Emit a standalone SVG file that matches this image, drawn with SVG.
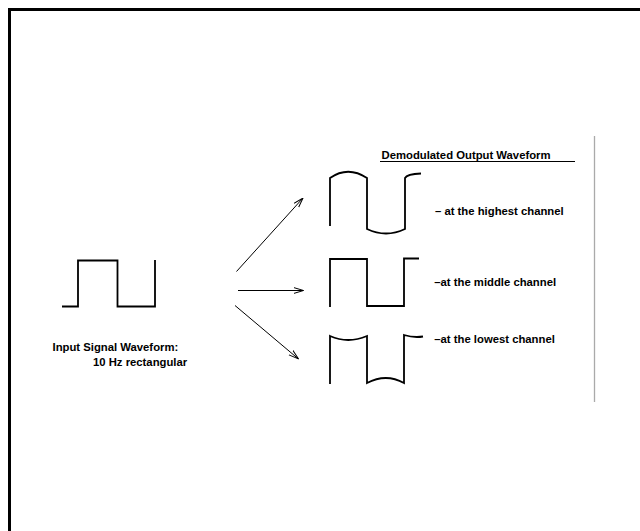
<svg xmlns="http://www.w3.org/2000/svg" width="640" height="531" viewBox="0 0 640 531">
<defs>
<style>
.wave{fill:none;stroke:#000;stroke-width:1.8;stroke-linejoin:miter}
.arrow{fill:none;stroke:#000;stroke-width:1}
.t{font-family:"Liberation Sans",Arial,sans-serif;font-size:11.3px;font-weight:bold;fill:#000}
</style>
<marker id="ah" viewBox="0 0 10 8" refX="10" refY="4" markerWidth="10" markerHeight="8" markerUnits="userSpaceOnUse" orient="auto">
<path d="M0,1 L10,4 L0,7" fill="none" stroke="#000" stroke-width="1"/>
</marker>
</defs>
<rect width="640" height="531" fill="#fff"/>
<rect x="9.5" y="9.5" width="700" height="600" fill="none" stroke="#000" stroke-width="3"/>
<line x1="594.5" y1="136" x2="594.5" y2="402" stroke="#aaa" stroke-width="1.3"/>
<g id="input">
<path class="wave" d="M62,306.5 L78,306.5 L78,260.5 L117.5,260.5 L117.5,306.5 L155,306.5 L155,260"/>
<text class="t" x="52.5" y="350.5">Input Signal Waveform:</text>
<text class="t" x="93" y="365.5">10 Hz rectangular</text>
</g>
<g id="title">
<text class="t" x="381.5" y="158.5">Demodulated Output Waveform</text>
<line x1="380" y1="161.5" x2="575" y2="161.5" stroke="#000" stroke-width="1"/>
</g>
<g id="highest">
<path class="wave" d="M330,226 L330,178 Q348,165.5 367,178 L367,229 Q386,238 405,229 L405,178 Q407,174 421,173.5"/>
<text class="t" x="435" y="215">– at the highest channel</text>
</g>
<g id="middle">
<path class="wave" d="M330,307 L330,259 L367,259 L367,306 L404,306 L404,258.5 L419,258.5"/>
<text class="t" x="434.3" y="286">–at the middle channel</text>
</g>
<g id="lowest">
<path class="wave" d="M330,384 L330,336 Q348,344 367,336 L367,383 Q386,373 404,383 L404,335 Q414,338 423,336.5"/>
<text class="t" x="434.3" y="343">–at the lowest channel</text>
</g>
<g id="connectors">
<line class="arrow" x1="236.5" y1="271.5" x2="303" y2="198" marker-end="url(#ah)"/>
<line class="arrow" x1="238" y1="290.5" x2="303.5" y2="290.5" marker-end="url(#ah)"/>
<line class="arrow" x1="235" y1="305.5" x2="298.5" y2="359" marker-end="url(#ah)"/>
</g>
</svg>
